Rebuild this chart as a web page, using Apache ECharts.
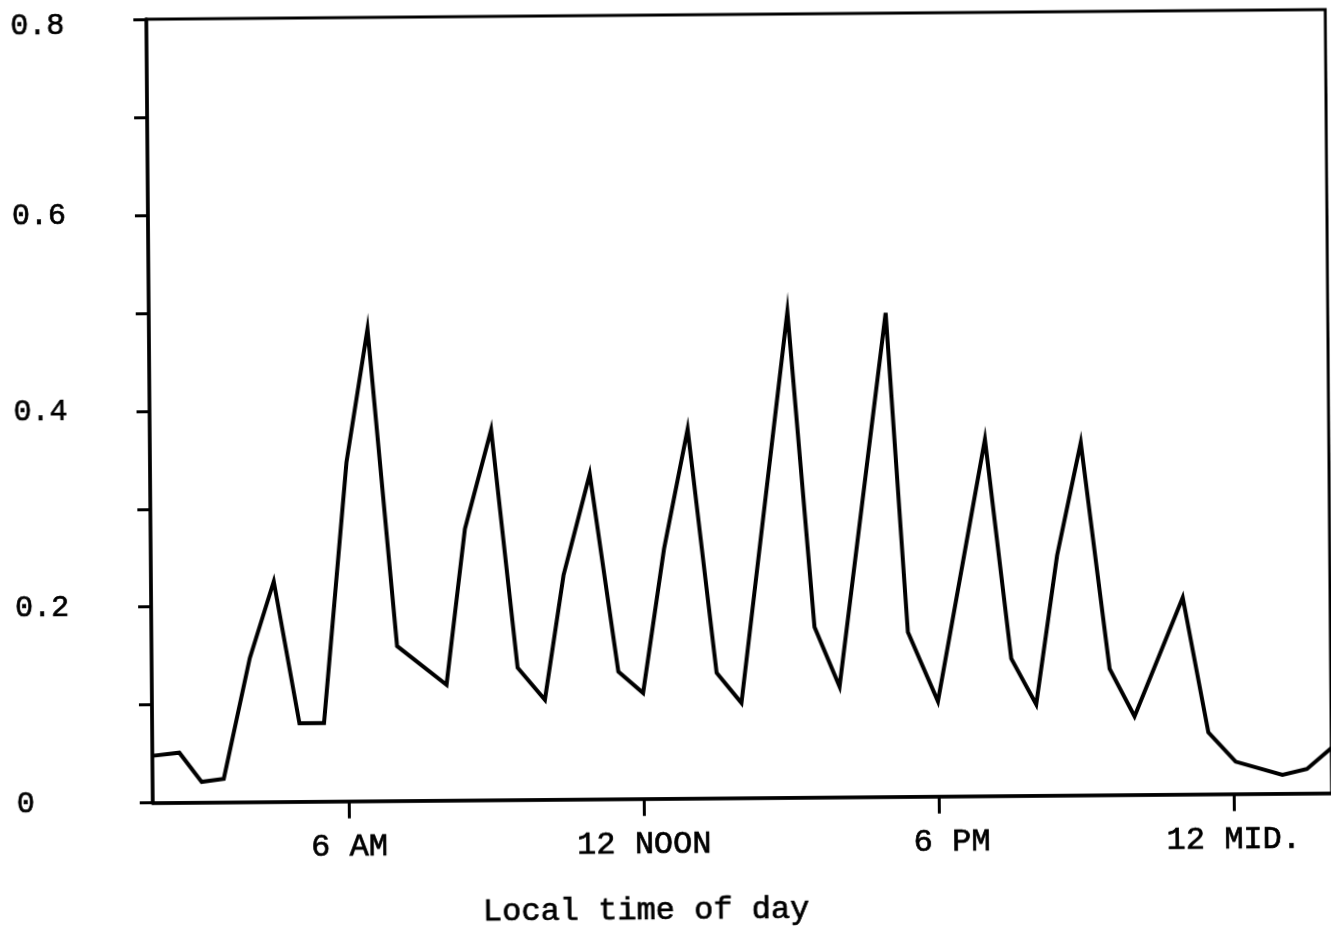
<!DOCTYPE html>
<html>
<head>
<meta charset="utf-8">
<title>Local time of day</title>
<script src="https://cdn.jsdelivr.net/npm/echarts@6/dist/echarts.min.js"></script>
<style>
  html, body { margin: 0; padding: 0; background: #fff; overflow: hidden; }
  #chart { width: 1331px; height: 932px; transform: rotate(-0.47deg); transform-origin: 50% 50%; }
</style>
</head>
<body>
<div id="chart"></div>
<script>
// Local time in hours (2 = 2 AM, 24 = midnight, 26 = 2 AM next day)
const hours = [2.0, 2.55, 3.0, 3.45, 4.0, 4.5, 5.0, 5.5, 6.0, 6.45,
               7.0, 8.0, 8.4, 8.95, 9.45, 10.0, 10.4, 10.95, 11.5, 12.0,
               12.45, 12.95, 13.5, 14.0, 15.0, 15.5, 16.0, 17.0, 17.4, 18.0,
               19.0, 19.5, 20.0, 20.45, 20.95, 21.5, 22.0, 23.0, 23.5, 24.05,
               25.0, 25.5, 26.0];
const values = [0.048, 0.051, 0.021, 0.024, 0.147, 0.225, 0.080, 0.080, 0.346, 0.482,
                0.158, 0.118, 0.277, 0.378, 0.135, 0.102, 0.229, 0.332, 0.130, 0.108,
                0.255, 0.377, 0.128, 0.097, 0.496, 0.174, 0.113, 0.494, 0.168, 0.097,
                0.364, 0.140, 0.093, 0.245, 0.360, 0.129, 0.080, 0.201, 0.063, 0.033,
                0.019, 0.025, 0.046];
const xTickValues = [6, 12, 18, 24];
const xTickLabels = ['6 AM', '12 NOON', '6 PM', '12 MID.'];
const xAxisTitle = 'Local time of day';

const FONT = '"Liberation Mono", "Courier New", monospace';
const chart = echarts.init(document.getElementById('chart'), null, { renderer: 'canvas' });
const seriesData = hours.map((h, i) => [h, values[i]]);
const ink = { color: '#000', fontFamily: FONT, textBorderColor: '#000', textBorderWidth: 0.7 };

chart.setOption({
  animation: false,
  backgroundColor: '#fff',
  grid: {
    left: 150, right: 2, top: 15, bottom: 131,
    show: true, borderColor: '#000', borderWidth: 3, backgroundColor: 'transparent'
  },
  xAxis: {
    type: 'value', min: 2, max: 26,
    splitLine: { show: false },
    axisLine: { lineStyle: { color: '#000', width: 3.5 } },
    axisTick: { customValues: xTickValues, length: 17, lineStyle: { color: '#000', width: 3 } },
    axisLabel: Object.assign({
      customValues: xTickValues,
      formatter: v => {
        const i = xTickValues.indexOf(Math.round(v));
        if (i < 0) return '';
        return i === 2 ? '{pm|' + xTickLabels[i] + '}' : xTickLabels[i];
      },
      rich: { pm: Object.assign({ fontSize: 32, padding: [0, 0, 0, 26] }, ink) },
      margin: 30, fontSize: 32
    }, ink),
    name: xAxisTitle, nameLocation: 'middle', nameGap: 96,
    nameTextStyle: Object.assign({ fontSize: 32, padding: [0, 194, 0, 0] }, ink)
  },
  yAxis: {
    type: 'value', min: 0, max: 0.8, interval: 0.1,
    splitLine: { show: false },
    axisLine: { show: true, lineStyle: { color: '#000', width: 3.5 } },
    axisTick: { show: true, length: 13, lineStyle: { color: '#000', width: 3 } },
    axisLabel: Object.assign({
      formatter: v => {
        const k = Math.round(v * 10);
        if (k % 2 !== 0) return '';
        if (k === 8) return '{top|0.8}';
        return k === 0 ? '0' : (k / 10).toFixed(1);
      },
      rich: { top: Object.assign({ fontSize: 30, padding: [12, 0, 0, 0] }, ink) },
      align: 'left', margin: 136, fontSize: 30
    }, ink)
  },
  series: [{
    type: 'line',
    data: seriesData,
    symbol: 'none',
    lineStyle: { color: '#000', width: 4, join: 'miter' },
    itemStyle: { color: '#000' }
  }]
});
</script>
</body>
</html>
